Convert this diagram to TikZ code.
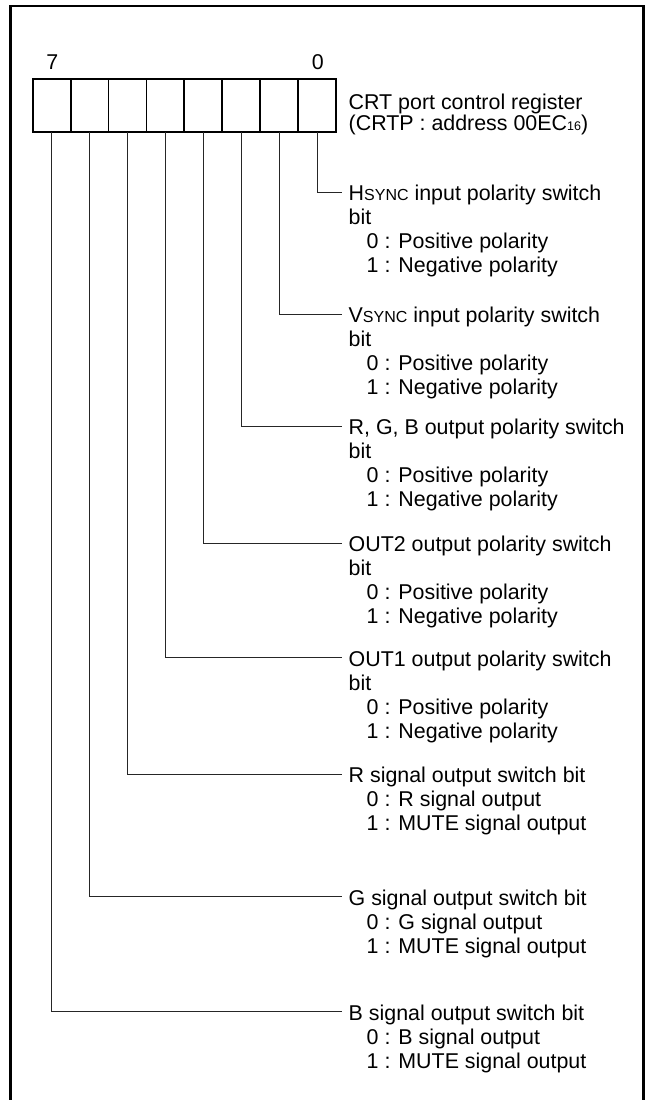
\documentclass[tikz,border=0pt]{standalone}
\usepackage{fontspec}
\setmainfont{Liberation Sans}
\newcommand\fakesc[1]{{\fontsize{16}{16}\selectfont #1}}
\newcommand\subnum[1]{{\fontsize{12.5}{12.5}\selectfont #1}}
\newcommand\ind{\hspace*{18pt}}
\begin{document}
\begin{tikzpicture}[x=1pt,y=-1pt,
  frame/.style={line width=2.5pt,line cap=butt},
  cell/.style={draw,line width=1.8pt,minimum width=37.9pt,minimum height=53pt,inner sep=0pt,outer sep=0pt},
  lead/.style={line width=0.9pt,draw=black!85},
  lbl/.style={anchor=base west,inner sep=0pt,font=\fontsize{21.4}{24}\selectfont},
  num/.style={anchor=base,inner sep=0pt,font=\fontsize{21.4}{24}\selectfont},
]
\useasboundingbox (0,0) rectangle (647,1100);
\clip (0,0) rectangle (647,1100);
% outer frame (open at the bottom)
\draw[frame] (10.7,1105) -- (10.7,6) -- (643.5,6) -- (643.5,1105);

% register cells
\foreach \b [evaluate=\b as \xc using 32.7+37.9*(7-\b)+18.95] in {0,...,7}
  \node[cell] (c\b) at (\xc,105.5) {};

\node[num] (n7) at (52.3,69.4) {7};
\node[num] (n0) at (317.7,69.4) {0};

\node[lbl] (crt1) at (348.5,109.3) {CRT port control register};
\node[lbl] (crt2) at (348.5,130.3) {(CRTP : address 00EC\subnum{16})};

% bit descriptions
\node[lbl] (t0) at (348.5,200.8) {\begin{tabular}[t]{@{}l@{}}H\fakesc{SYNC} input polarity switch\\bit\\\ind 0 : Positive polarity\\\ind 1 : Negative polarity\end{tabular}};
\node[lbl] (t1) at (348.5,322.5) {\begin{tabular}[t]{@{}l@{}}V\fakesc{SYNC} input polarity switch\\bit\\\ind 0 : Positive polarity\\\ind 1 : Negative polarity\end{tabular}};
\node[lbl] (t2) at (348.5,434.5) {\begin{tabular}[t]{@{}l@{}}R, G, B output polarity switch\\bit\\\ind 0 : Positive polarity\\\ind 1 : Negative polarity\end{tabular}};
\node[lbl] (t3) at (348.5,551.8) {\begin{tabular}[t]{@{}l@{}}OUT2 output polarity switch\\bit\\\ind 0 : Positive polarity\\\ind 1 : Negative polarity\end{tabular}};
\node[lbl] (t4) at (348.5,666.2) {\begin{tabular}[t]{@{}l@{}}OUT1 output polarity switch\\bit\\\ind 0 : Positive polarity\\\ind 1 : Negative polarity\end{tabular}};
\node[lbl] (t5) at (348.5,782.8) {\begin{tabular}[t]{@{}l@{}}R signal output switch bit\\\ind 0 : R signal output\\\ind 1 : MUTE signal output\end{tabular}};
\node[lbl] (t6) at (348.5,905.2) {\begin{tabular}[t]{@{}l@{}}G signal output switch bit\\\ind 0 : G signal output\\\ind 1 : MUTE signal output\end{tabular}};
\node[lbl] (t7) at (348.5,1020.3) {\begin{tabular}[t]{@{}l@{}}B signal output switch bit\\\ind 0 : B signal output\\\ind 1 : MUTE signal output\end{tabular}};

% leader line ends
\coordinate (e0) at (342,192.3);
\coordinate (e1) at (342,314);
\coordinate (e2) at (342,426);
\coordinate (e3) at (342,543.3);
\coordinate (e4) at (342,657.7);
\coordinate (e5) at (342,774.3);
\coordinate (e6) at (342,896.7);
\coordinate (e7) at (342,1011.8);

\foreach \b in {0,...,7}
  \draw[lead] (c\b.south) |- (e\b);
\end{tikzpicture}
\end{document}
